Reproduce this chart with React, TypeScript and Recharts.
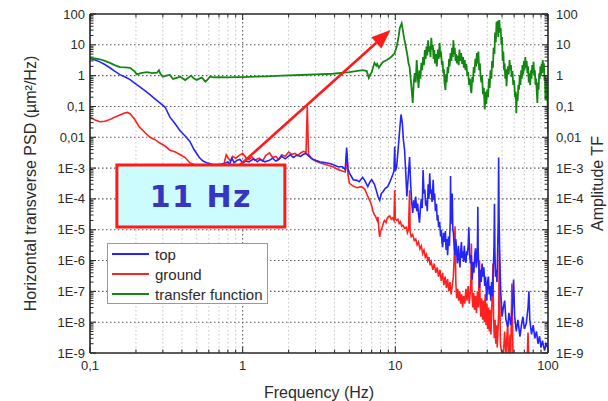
import React from 'react';
import { LineChart, Line, XAxis, YAxis, CartesianGrid, ReferenceArea, ReferenceLine, Legend } from 'recharts';

// [frequency Hz, PSD µm²/Hz]
const topSpectrum: [number, number][] = [
  [0.1, 3.6], [0.108, 3.2], [0.116, 2.8], [0.125, 2.3], [0.135, 1.8], [0.145, 1.4], [0.157, 1.08], [0.17, 0.9],
  [0.183, 0.74], [0.195, 0.58], [0.21, 0.45], [0.23, 0.32], [0.247, 0.24], [0.265, 0.18], [0.287, 0.13], [0.31, 0.096],
  [0.334, 0.045], [0.36, 0.028], [0.39, 0.016], [0.42, 0.011], [0.45, 0.0075], [0.48, 0.004], [0.52, 0.0022], [0.55, 0.0017],
  [0.58, 0.0015], [0.64, 0.0013], [0.7, 0.0013], [0.76, 0.0014], [0.8, 0.0016], [0.82, 0.0013], [0.85, 0.0021], [0.88, 0.0015],
  [0.92, 0.0018], [0.96, 0.0019], [1.0, 0.0015], [1.05, 0.0017], [1.1, 0.0016], [1.18, 0.002], [1.25, 0.0016], [1.3, 0.0019],
  [1.4, 0.0016], [1.5, 0.0018], [1.57, 0.0021], [1.65, 0.0017], [1.72, 0.0019], [1.8, 0.0024], [1.9, 0.002], [2.05, 0.0027],
  [2.15, 0.0022], [2.25, 0.0026], [2.4, 0.0024], [2.5, 0.0028], [2.6, 0.003], [2.7, 0.0025], [2.8, 0.0021], [2.9, 0.0019],
  [3.0, 0.0018], [3.2, 0.0016], [3.5, 0.0015], [3.7, 0.0014], [3.9, 0.0013], [4.2, 0.0011], [4.5, 0.0011], [4.7, 0.0009],
  [4.8, 0.0046], [4.9, 0.0009], [5.0, 0.0007], [5.3, 0.00042], [5.6, 0.0004], [5.8, 0.00036], [6.1, 0.0005], [6.3, 0.0004],
  [6.6, 0.00025], [6.8, 0.00035], [7.0, 0.00042], [7.3, 0.0003], [7.5, 0.00019], [7.7, 0.00012], [7.9, 0.00009], [8.1, 0.00015],
  [8.3, 0.00017], [8.6, 0.00022], [8.9, 0.00025], [9.2, 0.00035], [9.6, 0.0006], [9.8, 0.0008], [9.9, 0.0049], [10.0, 0.0008],
  [10.2, 0.0011], [10.5, 0.006], [10.7, 0.02], [10.9, 0.055], [11.1, 0.03], [11.3, 0.008], [11.5, 0.0038], [11.7, 0.0007],
  [11.9, 0.00012], [12.1, 0.0004], [12.4, 0.0023], [12.6, 0.0003], [12.8, 0.00008], [13.0, 0.000035], [13.2, 0.00009], [13.4, 0.00005],
  [13.6, 0.00012], [13.8, 0.00004], [14.0, 0.00007], [14.2, 0.00003], [14.4, 0.000017], [14.6, 0.00005], [14.8, 0.0001], [15.0, 0.00005],
  [15.2, 0.00087], [15.4, 0.00015], [15.6, 0.0002], [15.8, 0.00006], [16.0, 0.00009], [16.2, 0.00004], [16.4, 0.0003], [16.6, 0.0001],
  [16.8, 0.00068], [17.0, 0.00015], [17.2, 0.0002], [17.4, 0.00008], [17.7, 0.00042], [17.9, 0.00009], [18.1, 0.00015], [18.3, 0.00004],
  [18.6, 0.00007], [18.8, 0.00002], [19.0, 0.00003], [19.2, 0.000012], [19.5, 0.000018], [19.8, 0.000006], [20.0, 0.00001], [20.2, 0.000004],
  [20.4, 0.0000027], [20.7, 0.000008], [21.0, 0.000004], [21.3, 0.000009], [21.5, 0.0000022], [21.8, 0.000005], [22.0, 0.0000015], [22.3, 0.000006],
  [22.6, 0.000003], [22.9, 0.00002], [23.0, 0.00055], [23.1, 0.00005], [23.3, 0.00006], [23.5, 0.000015], [23.6, 0.00015], [23.8, 0.00001],
  [24.0, 0.000008], [24.3, 0.000003], [24.6, 0.0000015], [24.9, 0.000005], [25.2, 0.000002], [25.5, 0.0000008], [25.9, 0.000003], [26.2, 0.0000012],
  [26.5, 0.0000006], [26.8, 0.000002], [27.1, 0.000004], [27.4, 0.0000012], [27.7, 0.000002], [28.0, 0.0000009], [28.3, 0.000003], [28.6, 0.0000012],
  [29.0, 0.00000085], [29.3, 0.000002], [29.6, 0.0000015], [30.0, 0.000003], [30.3, 0.000012], [30.6, 0.000002], [31.0, 0.0000008], [31.4, 0.0000015],
  [31.9, 0.00000024], [32.3, 0.0000009], [32.7, 0.0000004], [33.1, 0.0000015], [33.5, 0.0000025], [33.9, 0.0000006], [34.2, 0.000001], [34.5, 0.000003],
  [34.7, 0.000056], [34.9, 0.000002], [35.2, 0.0000006], [35.6, 0.00000013], [36.0, 0.0000005], [36.5, 0.0000002], [37.0, 0.0000008], [37.5, 0.0000003],
  [38.0, 0.0000006], [38.5, 0.00000015], [39.0, 0.0000003], [39.7, 0.00000005], [40.2, 0.0000002], [40.7, 0.0000003], [41.2, 0.00000008], [41.7, 0.00000015],
  [42.2, 0.00000005], [42.7, 0.0000002], [43.2, 0.00000007], [43.8, 0.0000004], [44.3, 0.000003], [44.6, 0.00007], [44.9, 0.000002], [45.3, 0.0000003],
  [45.8, 0.0000005], [46.3, 0.0000002], [46.8, 0.000002], [47.2, 0.00002], [47.5, 0.0022], [47.8, 0.00003], [48.2, 0.000002], [48.6, 0.0000004],
  [49.0, 0.0000001], [49.5, 0.00000004], [50, 0.000000015], [51, 0.00000003], [52, 0.00000005], [53, 0.000000012], [54.5, 0.000000007], [55.5, 0.00000002],
  [57, 0.000000008], [58.5, 0.00000003], [59.5, 0.00000024], [60.5, 0.000000015], [62, 0.000000005], [63.5, 0.000000012], [65.5, 0.0000000034], [67, 0.000000008],
  [68.5, 0.000000015], [70, 0.000000006], [72, 0.000000009], [74, 0.00000003], [75, 0.0000001], [76, 0.000000012], [78, 0.000000004], [80, 0.000000008],
  [82, 0.000000003], [84, 0.000000005], [86, 0.000000002], [88, 0.0000000035], [90, 0.0000000015], [92, 0.0000000025], [95, 0.0000000012], [97, 0.000000002],
  [100, 0.0000000015],
];

const groundSpectrum: [number, number][] = [
  [0.1, 0.046], [0.108, 0.036], [0.116, 0.032], [0.125, 0.033], [0.135, 0.038], [0.145, 0.045], [0.157, 0.053], [0.167, 0.06],
  [0.175, 0.064], [0.183, 0.058], [0.195, 0.04], [0.21, 0.022], [0.23, 0.014], [0.247, 0.01], [0.265, 0.0085], [0.287, 0.0065],
  [0.31, 0.0052], [0.334, 0.0038], [0.36, 0.0034], [0.39, 0.0027], [0.42, 0.0022], [0.45, 0.0015], [0.5, 0.0012], [0.6, 0.0011],
  [0.75, 0.0012], [0.78, 0.0027], [0.8, 0.0022], [0.83, 0.0017], [0.86, 0.0024], [0.9, 0.0021], [0.95, 0.0026], [1.0, 0.003],
  [1.05, 0.0022], [1.1, 0.0019], [1.15, 0.0023], [1.2, 0.0018], [1.28, 0.0021], [1.35, 0.0017], [1.42, 0.0026], [1.5, 0.0031],
  [1.57, 0.0022], [1.65, 0.0024], [1.72, 0.0019], [1.8, 0.0027], [1.9, 0.0024], [2.0, 0.0033], [2.1, 0.0028], [2.2, 0.003],
  [2.3, 0.0026], [2.4, 0.0031], [2.5, 0.0035], [2.6, 0.0032], [2.65, 0.1], [2.7, 0.0028], [2.8, 0.0022], [2.9, 0.0019],
  [3.0, 0.0017], [3.2, 0.0015], [3.5, 0.0013], [3.7, 0.0012], [3.9, 0.0011], [4.2, 0.0009], [4.5, 0.0008], [4.7, 0.00075],
  [4.8, 0.003], [4.9, 0.0006], [5.0, 0.00032], [5.3, 0.00026], [5.6, 0.00023], [6.0, 0.00025], [6.3, 0.00021], [6.6, 0.00012],
  [6.8, 0.00009], [7.0, 0.00006], [7.1, 0.000043], [7.3, 0.00003], [7.4, 0.000028], [7.6, 0.00002], [7.7, 0.000026], [7.8, 0.00001],
  [7.9, 0.0000058], [8.0, 0.000009], [8.2, 0.000012], [8.4, 0.000018], [8.5, 0.00002], [8.7, 0.000017], [8.8, 0.000022], [9.0, 0.000026],
  [9.2, 0.000028], [9.4, 0.000022], [9.6, 0.000024], [9.8, 0.00002], [9.9, 0.00019], [10.0, 0.000022], [10.2, 0.00002], [10.4, 0.000022],
  [10.6, 0.000016], [10.8, 0.000018], [11.0, 0.000013], [11.2, 0.000014], [11.5, 0.000011], [11.8, 0.000012], [12.0, 0.000008], [12.2, 0.00001],
  [12.4, 0.00019], [12.5, 0.000009], [12.7, 0.000006], [13.0, 0.000007], [13.3, 0.0000045], [13.6, 0.000005], [13.9, 0.0000032], [14.2, 0.000004],
  [14.5, 0.0000024], [14.8, 0.000003], [15.1, 0.0000017], [15.4, 0.0000022], [15.7, 0.0000013], [16.0, 0.0000016], [16.3, 0.000001], [16.6, 0.0000013],
  [16.9, 0.0000007], [17.2, 0.0000009], [17.6, 0.0000005], [18.0, 0.0000008], [18.4, 0.0000004], [18.8, 0.0000006], [19.2, 0.0000003], [19.6, 0.0000005],
  [20.0, 0.00000022], [20.4, 0.0000004], [20.8, 0.00000016], [21.2, 0.0000003], [21.6, 0.00000013], [22.0, 0.00000025], [22.4, 0.0000001], [22.8, 0.0000002],
  [23.2, 0.00000008], [23.6, 0.00000015], [24.0, 0.0000003], [24.3, 0.0000012], [24.6, 0.000013], [24.9, 0.0000002], [25.2, 0.00000006], [25.6, 0.00000012],
  [26.0, 0.00000005], [26.4, 0.0000001], [26.8, 0.00000004], [27.2, 0.00000008], [27.6, 0.00000003], [28.0, 0.00000007], [28.5, 0.00000004], [29.0, 0.00000012],
  [29.5, 0.00000005], [30.0, 0.00000015], [30.5, 0.00000004], [31.0, 0.0000001], [31.3, 0.0000003], [31.5, 0.0000036], [31.8, 0.00000008], [32.2, 0.00000003],
  [32.6, 0.00000009], [33.0, 0.000000025], [33.5, 0.00000007], [34.0, 0.00000002], [34.5, 0.0000001], [35.0, 0.00000003], [35.3, 0.0000002], [35.6, 0.000001],
  [35.9, 0.00000005], [36.3, 0.000000015], [36.8, 0.00000006], [37.3, 0.000000012], [37.8, 0.00000005], [38.3, 0.00000001], [38.8, 0.00000008], [39.3, 0.000000008],
  [39.8, 0.00000004], [40.3, 0.000000006], [40.8, 0.00000003], [41.3, 0.000000005], [41.8, 0.000000025], [42.3, 0.000000004], [42.8, 0.00000003], [43.2, 0.00000008],
  [43.6, 0.0000008], [44.0, 0.000000015], [44.5, 0.000000003], [45.0, 0.000000012], [45.5, 0.000000002], [46.0, 0.000000008], [46.5, 0.0000000015], [47.0, 0.000000005],
  [47.5, 0.00000002], [48, 0.0000022], [48.4, 0.00000003], [48.8, 0.000000002], [49.5, 0.0000000012], [51, 0.0000000008], [52, 0.000000005], [53, 0.0000000009],
  [54.5, 0.00000001], [55, 0.0000000006], [56.5, 0.000000004], [57, 0.0000000008], [58, 0.00000018], [59, 0.0000000007], [62, 0.0000000005], [65, 0.0000000006],
  [70, 0.0000000004], [73, 0.0000000006], [74, 0.0000000046], [75, 0.0000000005], [80, 0.0000000004], [90, 0.0000000003], [100, 0.0000000003],
];

// [frequency Hz, transfer-function amplitude]
const transferFunction: [number, number][] = [
  [0.1, 3.6], [0.108, 3.6], [0.116, 3.4], [0.125, 3.0], [0.135, 2.6], [0.145, 2.2], [0.157, 1.9], [0.17, 1.85],
  [0.183, 1.8], [0.195, 1.4], [0.203, 1.1], [0.215, 1.2], [0.236, 1.3], [0.255, 1.2], [0.275, 1.25], [0.283, 1.5],
  [0.29, 1.1], [0.3, 0.92], [0.315, 1.0], [0.333, 1.05], [0.35, 0.78], [0.37, 0.85], [0.39, 0.92], [0.42, 0.72],
  [0.44, 0.85], [0.46, 1.0], [0.48, 0.8], [0.5, 0.72], [0.52, 0.8], [0.54, 0.86], [0.57, 0.64], [0.59, 0.75],
  [0.61, 0.93], [0.65, 0.88], [0.7, 0.9], [0.8, 0.88], [0.9, 0.9], [1.0, 0.9], [1.2, 0.93], [1.43, 0.95],
  [1.8, 1.0], [2.4, 1.05], [3.0, 1.1], [3.9, 1.15], [5.0, 1.3], [6.1, 1.5], [6.5, 1.4], [6.7, 0.85],
  [6.85, 1.1], [7.0, 1.3], [7.3, 2.6], [7.5, 2.1], [7.6, 2.4], [7.8, 1.8], [8.0, 2.2], [8.3, 2.8],
  [8.8, 3.2], [9.2, 3.7], [9.6, 4.5], [9.9, 5.4], [10.2, 8.5], [10.5, 18], [10.7, 35], [11.0, 50],
  [11.2, 30], [11.4, 17], [11.7, 9], [12.0, 4.5], [12.2, 2.5], [12.4, 1.9], [12.6, 0.8], [12.8, 0.34],
  [13.0, 0.13], [13.2, 0.6], [13.4, 1.2], [13.6, 0.6], [13.8, 3.2], [14.0, 1.0], [14.2, 0.4], [14.4, 1.5],
  [14.6, 0.8], [14.8, 2.6], [15.0, 1.5], [15.2, 4], [15.4, 2.2], [15.6, 6.8], [15.8, 3.5], [16.0, 9],
  [16.2, 4.5], [16.4, 14], [16.6, 6], [16.8, 9], [17.0, 4], [17.2, 17], [17.4, 7], [17.6, 10],
  [17.8, 3.5], [18.0, 6.8], [18.2, 2.5], [18.4, 5], [18.7, 2], [19.0, 7], [19.2, 3.5], [19.5, 11.5],
  [19.7, 4], [19.9, 6], [20.2, 2.2], [20.4, 3], [20.6, 1.2], [20.8, 1.6], [21.0, 0.6], [21.3, 0.34],
  [21.5, 1.1], [21.7, 0.6], [22.0, 1.9], [22.2, 1.2], [22.5, 3.5], [22.7, 2], [23.0, 5.4], [23.3, 3],
  [23.5, 8], [23.8, 4], [24.0, 14], [24.3, 5], [24.5, 8], [24.8, 3], [25.0, 5], [25.3, 2.5],
  [25.7, 4.5], [26.0, 2.2], [26.3, 7], [26.6, 3], [27.0, 5.4], [27.4, 2.4], [27.8, 4], [28.1, 1.8],
  [28.5, 3.2], [28.8, 1.5], [29.2, 2.4], [29.6, 1.0], [30.0, 1.3], [30.4, 0.5], [30.8, 0.8], [31.2, 0.35],
  [31.5, 0.27], [31.9, 0.9], [32.2, 0.6], [32.6, 1.9], [33.0, 1.2], [33.4, 3.5], [33.8, 2.0], [34.2, 5.4],
  [34.6, 2.5], [35.0, 6], [35.4, 1.5], [35.8, 2.5], [36.2, 0.9], [36.6, 0.6], [37.0, 1.0], [37.5, 0.25],
  [38.0, 0.4], [38.5, 0.08], [39.0, 0.3], [39.4, 0.12], [40.0, 0.35], [40.5, 0.2], [41.0, 0.8], [41.5, 0.4],
  [42.0, 1.5], [42.6, 0.8], [43.0, 3], [43.6, 1.8], [44.0, 8], [44.6, 5], [45.0, 25], [45.5, 12],
  [46.0, 55], [46.4, 30], [46.8, 60], [47.2, 18], [47.6, 40], [48.0, 64], [48.5, 25], [49.0, 35],
  [49.5, 10], [50.0, 18], [50.5, 3], [51.0, 6], [51.5, 1.5], [52.0, 2.5], [52.5, 0.8], [53.0, 1.6],
  [53.5, 0.45], [54.0, 1.2], [54.7, 2], [55.3, 1.1], [56.0, 3.2], [56.6, 1.5], [57.2, 2.2], [57.8, 0.9],
  [58.5, 1.4], [59.2, 0.5], [60.0, 0.7], [60.8, 0.2], [61.5, 0.3], [62.0, 0.06], [62.6, 0.25], [63.2, 0.15],
  [64.0, 0.5], [64.6, 0.35], [65.3, 1.0], [66.0, 0.5], [66.7, 1.5], [67.4, 0.8], [68.0, 2.2], [68.8, 1.1],
  [69.5, 3], [70.2, 1.5], [71.0, 4], [71.8, 1.8], [72.5, 3], [73.3, 1.2], [74.0, 2], [74.8, 0.6],
  [75.6, 1.2], [76.4, 0.5], [77.2, 1.5], [78.0, 0.8], [78.8, 2.2], [79.6, 1.2], [80.4, 2.8], [81.2, 1.0],
  [82.0, 1.5], [82.8, 0.5], [83.6, 0.8], [84.4, 0.3], [85.2, 0.13], [86.0, 0.6], [86.8, 0.35], [87.6, 1.2],
  [88.4, 0.8], [89.2, 2.0], [90.0, 1.0], [90.8, 2.4], [91.6, 1.2], [92.4, 3.2], [93.2, 1.5], [94.0, 2.5],
  [94.8, 0.7], [95.6, 1.0], [96.2, 0.16], [96.8, 0.6], [97.4, 0.3], [98.0, 0.8], [98.6, 0.15], [99.2, 0.3],
  [99.6, 0.05], [100, 0.014],
];

const xMajorTicks = [0.1, 1, 10, 100];
const xMajorLabels = ['0,1', '1', '10', '100'];
const yMajorTicks = [1e-9, 1e-8, 1e-7, 1e-6, 1e-5, 1e-4, 1e-3, 0.01, 0.1, 1, 10, 100];
const yMajorLabels = ['1E-9', '1E-8', '1E-7', '1E-6', '1E-5', '1E-4', '1E-3', '0,01', '0,1', '1', '10', '100'];

const seriesNames = ['top', 'ground', 'transfer function'];
const seriesColors = ['#2424ff', '#ff2020', '#138613'];

const annotationText = '11 Hz';
const annotationBoxFreq = [0.15, 1.89];
const annotationBoxLevel = [1.23e-5, 1.26e-3];
const arrowStart = { x: 0.96, y: 1.26e-3 };
const arrowEnd = { x: 9.3, y: 30 };

const xTitle = 'Frequency (Hz)';
const yLeftTitle = 'Horizontal transverse PSD (µm²/Hz)';
const yRightTitle = 'Amplitude TF';

const minorMultipliers = [2, 3, 4, 5, 6, 7, 8, 9];
const minorsOf = (majors: number[]) => majors.slice(0, -1).flatMap((m) => minorMultipliers.map((k) => m * k));
const xMinorTicks = minorsOf(xMajorTicks);
const yMinorTicks = minorsOf(yMajorTicks);
const xAllTicks = [...xMajorTicks, ...xMinorTicks].sort((a, b) => a - b);
const yAllTicks = [...yMajorTicks, ...yMinorTicks].sort((a, b) => a - b);

const toRows = (pairs: [number, number][]) => pairs.map(([f, v]) => ({ f, v }));
const topData = toRows(topSpectrum);
const groundData = toRows(groundSpectrum);
const tfData = toRows(transferFunction);

const FONT = '"Liberation Sans", Arial, Helvetica, sans-serif';
const AXIS = '#262626';
const TEXT = '#2b2b2b';

const labelFor = (v: number, majors: number[], labels: string[]) => {
  const i = majors.findIndex((m) => Math.abs(Math.log10(m) - Math.log10(v)) < 1e-6);
  return i >= 0 ? labels[i] : null;
};

const BottomTick = (p: any) => {
  const lab = labelFor(p.payload.value, xMajorTicks, xMajorLabels);
  return (
    <g>
      <line x1={p.x} x2={p.x} y1={p.y} y2={p.y - (lab ? 6 : 3.5)} stroke={AXIS} strokeWidth={1} />
      {lab && (
        <text x={p.x} y={p.y + 17} textAnchor="middle" fontSize={13} fill={TEXT} fontFamily={FONT}>{lab}</text>
      )}
    </g>
  );
};
const TopTick = (p: any) => {
  const lab = labelFor(p.payload.value, xMajorTicks, xMajorLabels);
  return <line x1={p.x} x2={p.x} y1={p.y} y2={p.y + (lab ? 6 : 3.5)} stroke={AXIS} strokeWidth={1} />;
};
const LeftTick = (p: any) => {
  const lab = labelFor(p.payload.value, yMajorTicks, yMajorLabels);
  return (
    <g>
      <line x1={p.x} x2={p.x + (lab ? 6 : 3.5)} y1={p.y} y2={p.y} stroke={AXIS} strokeWidth={1} />
      {lab && (
        <text x={p.x - 5} y={p.y + 4.5} textAnchor="end" fontSize={13} fill={TEXT} fontFamily={FONT}>{lab}</text>
      )}
    </g>
  );
};
const RightTick = (p: any) => {
  const lab = labelFor(p.payload.value, yMajorTicks, yMajorLabels);
  return (
    <g>
      <line x1={p.x} x2={p.x - (lab ? 6 : 3.5)} y1={p.y} y2={p.y} stroke={AXIS} strokeWidth={1} />
      {lab && (
        <text x={p.x + 8} y={p.y + 4.5} textAnchor="start" fontSize={13} fill={TEXT} fontFamily={FONT}>{lab}</text>
      )}
    </g>
  );
};

const rotatedTitle = (text: string, dxFromAxis: number) => (p: any) => {
  const vb = p.viewBox || {};
  const cx = vb.x + dxFromAxis;
  const cy = vb.y + vb.height / 2;
  return (
    <text x={cx} y={cy} transform={`rotate(-90 ${cx} ${cy})`} textAnchor="middle" dominantBaseline="central"
      fontSize={16} fill={TEXT} fontFamily={FONT}>{text}</text>
  );
};

const bottomTitle = (p: any) => {
  const vb = p.viewBox || {};
  return (
    <text x={vb.x + vb.width / 2} y={vb.y + 45} textAnchor="middle" fontSize={16} fill={TEXT} fontFamily={FONT}>{xTitle}</text>
  );
};

const ArrowShape = (p: any) => {
  const { x1, y1, x2, y2 } = p;
  const ang = Math.atan2(y2 - y1, x2 - x1);
  const L = 19;
  const W = 7.5;
  const bx = x2 - L * Math.cos(ang);
  const by = y2 - L * Math.sin(ang);
  const px = -Math.sin(ang) * W;
  const py = Math.cos(ang) * W;
  return (
    <g>
      <line x1={x1} y1={y1} x2={bx} y2={by} stroke="#ff1a1a" strokeWidth={2.6} />
      <polygon points={`${x2},${y2} ${bx + px},${by + py} ${bx - px},${by - py}`} fill="#ff1a1a" />
    </g>
  );
};

const boxLabel = (p: any) => {
  const vb = p.viewBox || {};
  return (
    <text x={vb.x + vb.width / 2} y={vb.y + vb.height / 2 + 11} textAnchor="middle" fontSize={30} fontWeight="bold"
      fill="#3535c4" fontFamily='"DejaVu Sans", sans-serif' letterSpacing={1.5}>{annotationText}</text>
  );
};

const LegendBox = () => (
  <div style={{ width: 161, height: 61, border: '1px solid #9a9a9a', background: '#ffffff', boxSizing: 'border-box', paddingTop: 0 }}>
    {seriesNames.map((name, i) => (
      <div key={name} style={{ display: 'flex', alignItems: 'center', height: 20.2, fontFamily: FONT, fontSize: 15, color: TEXT, lineHeight: '19px' }}>
        <div style={{ width: 37, height: 0, borderTop: `2px solid ${seriesColors[i]}`, marginLeft: 4, marginRight: 6 }} />
        <span>{name}</span>
      </div>
    ))}
  </div>
);

export default function App() {
  return (
    <div style={{ position: 'absolute', left: 0, top: 0, width: 608, height: 401, background: '#fff' }}>
      <LineChart width={608} height={401} margin={{ top: 0, right: 0, bottom: 0, left: 0 }}>
        <CartesianGrid horizontal={false} verticalValues={xMinorTicks} stroke="#c4c4c4" strokeDasharray="1.5 2.5" />
        <CartesianGrid horizontalValues={yMajorTicks.slice(1, -1)} verticalValues={xMajorTicks.slice(1, -1)} stroke="#5a5a5a" strokeDasharray="1.5 2.5" strokeWidth={1.1} />
        <XAxis dataKey="f" type="number" scale="log" domain={[0.1, 100]} allowDataOverflow ticks={xAllTicks} interval={0}
          tick={BottomTick} tickLine={false} tickSize={0} tickMargin={0} height={48}
          axisLine={{ stroke: AXIS, strokeWidth: 1.6 }} label={bottomTitle} />
        <XAxis xAxisId="top" orientation="top" dataKey="f" type="number" scale="log" domain={[0.1, 100]} allowDataOverflow
          ticks={xAllTicks} interval={0} tick={TopTick} tickLine={false} tickSize={0} tickMargin={0} height={14}
          axisLine={{ stroke: AXIS, strokeWidth: 1.6 }} />
        <YAxis type="number" scale="log" domain={[1e-9, 100]} allowDataOverflow ticks={yAllTicks} interval={0}
          tick={LeftTick} tickLine={false} tickSize={0} tickMargin={0} width={90}
          axisLine={{ stroke: AXIS, strokeWidth: 1.6 }} label={rotatedTitle(yLeftTitle, 30)} />
        <YAxis yAxisId="right" orientation="right" type="number" scale="log" domain={[1e-9, 100]} allowDataOverflow
          ticks={yAllTicks} interval={0} tick={RightTick} tickLine={false} tickSize={0} tickMargin={0} width={60}
          axisLine={{ stroke: AXIS, strokeWidth: 1.6 }} label={rotatedTitle(yRightTitle, 49)} />
        <Line data={groundData} dataKey="v" name={seriesNames[1]} stroke={seriesColors[1]} strokeWidth={1.6} dot={false} isAnimationActive={false} />
        <Line data={topData} dataKey="v" name={seriesNames[0]} stroke={seriesColors[0]} strokeWidth={1.6} dot={false} isAnimationActive={false} />
        <Line data={tfData} yAxisId="right" dataKey="v" name={seriesNames[2]} stroke={seriesColors[2]} strokeWidth={1.8} dot={false} isAnimationActive={false} />
        <ReferenceArea x1={annotationBoxFreq[0]} x2={annotationBoxFreq[1]} y1={annotationBoxLevel[0]} y2={annotationBoxLevel[1]}
          fill="#cdfcff" fillOpacity={1} stroke="#ff1a1a" strokeWidth={3} zIndex={700} label={boxLabel} ifOverflow="visible" />
        <ReferenceLine segment={[arrowStart, arrowEnd]} shape={ArrowShape} zIndex={700} ifOverflow="visible" />
        <Legend layout="vertical" align="center" verticalAlign="middle" content={LegendBox}
          wrapperStyle={{ position: 'absolute', left: 107, top: 243, width: 161, height: 61, zIndex: 10 }} />
      </LineChart>
    </div>
  );
}
